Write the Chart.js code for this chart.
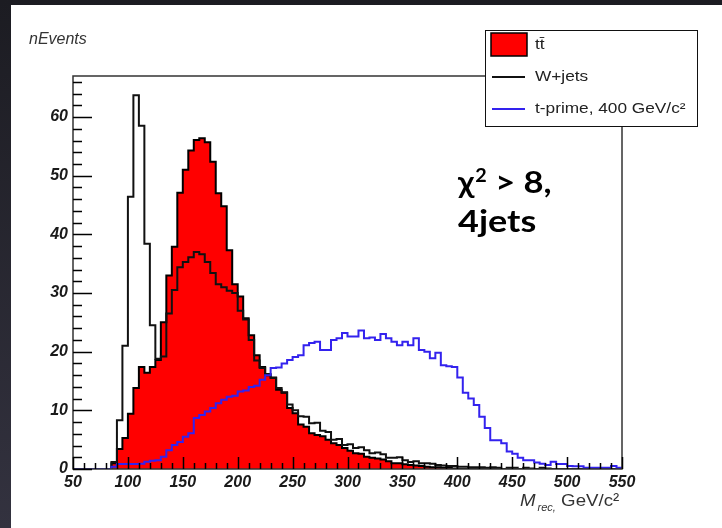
<!DOCTYPE html>
<html>
<head>
<meta charset="utf-8">
<script src="https://cdn.jsdelivr.net/npm/chart.js@4.4.1/dist/chart.umd.min.js"></script>
<style>
html, body { margin: 0; padding: 0; background: #26252f; }
#wrap { width: 722px; height: 528px; }
</style>
</head>
<body>
<div id="wrap"><canvas id="grafico" width="722" height="528"></canvas></div>
<script>
// bordas dos bins (GeV), 100 bins de 5 GeV
const massBins = Array.from({ length: 101 }, (_, i) => 50 + 5 * i);

const ttbar = [
  0, 0, 0, 0, 0, 0, 0, 1.0, 3.4, 5.3,
  9.4, 13.8, 17.4, 16.4, 17.4, 18.6, 25, 33, 37.9, 47.1,
  51, 54.3, 56.1, 56.4, 55.7, 52.4, 47, 44.8, 37.3, 31.5,
  29.4, 25.7, 22.8, 19.4, 17.4, 16, 15.6, 13.5, 13, 10.4,
  9.5, 7.6, 7.2, 6.1, 5.8, 5.6, 5.0, 4.4, 4.1, 3.6,
  3.1, 2.7, 2.6, 2.1, 1.9, 1.8, 1.6, 1.3, 1.0, 1.0,
  0.8, 0.7, 0.6, 0.5, 0.4, 0.3, 0.3, 0.2, 0.2, 0.1,
  0, 0, 0.1, 0, 0, 0.1, 0, 0, 0, 0,
  0, 0, 0, 0, 0, 0, 0, 0, 0, 0,
  0, 0, 0, 0, 0, 0, 0, 0, 0, 0
];

const wjets = [
  0, 0, 0, 0, 0, 0, 0, 1.2, 8.3, 21,
  46.4, 63.7, 58.5, 38.4, 24.5, 18.8, 19.2, 26.5, 30.5, 34.4,
  35.3, 36.1, 37, 36.6, 35.3, 33.4, 31.5, 31, 30.4, 30,
  27, 25.5, 22, 18.5, 17.2, 16.2, 15.5, 13.8, 13.1, 11,
  10, 9, 8.9, 7.8, 7.9, 6.5, 6.3, 5, 5.1, 4.1,
  4.2, 3.6, 3.7, 3.2, 2.7, 2.8, 2.5, 1.9, 1.9, 2.0,
  1.5, 1.2, 1.3, 1.0, 1.0, 0.9, 0.7, 0.6, 0.5, 0.5,
  0.4, 0.4, 0.3, 0.3, 0.3, 0.2, 0.3, 0.2, 0, 0.2,
  0.2, 0, 0.2, 0.1, 0, 0.2, 0.1, 0, 0, 0,
  0, 0, 0, 0, 0, 0, 0, 0, 0, 0
];

const tprime = [
  0, 0, 0, 0, 0, 0, 0, 0.4, 0.85, 0.85,
  0.85, 0.85, 0.9, 1.25, 1.4, 1.5, 2.1, 3.2, 4.1, 4.6,
  5.5, 6.1, 8.7, 9.2, 9.8, 10.4, 11.2, 11.8, 12.3, 12.5,
  13.2, 13.4, 14, 14.2, 15.2, 16, 17.2, 17.3, 18, 18.6,
  19.1, 19.4, 21.1, 21.5, 21.7, 20.3, 20.3, 22, 22.3, 23.2,
  22.6, 22.6, 23.6, 22.3, 22.4, 22, 23, 22.3, 21.7, 21.1,
  21.7, 21.1, 22.3, 20.3, 20, 18.9, 19.8, 17.7, 17.5, 17.4,
  15.6, 13, 12, 10.9, 8.9, 7, 4.9, 4.9, 4.4, 3.0,
  2.6, 1.9, 1.5, 1.5, 1.1, 0.9, 0.7, 1.25, 0.85, 0.85,
  0.5, 0.45, 0.45, 0.2, 0.2, 0.2, 0.2, 0.2, 0.5, 0.2
];

const seriesNames = ['tt\u0304', 'W+jets', 't-prime, 400 GeV/c\u00b2'];
const xTickValues = [50, 100, 150, 200, 250, 300, 350, 400, 450, 500, 550];
const xTickLabels = ['50', '100', '150', '200', '250', '300', '350', '400', '450', '500', '550'];
const yTickValues = [0, 10, 20, 30, 40, 50, 60];
const yTickLabels = ['0', '10', '20', '30', '40', '50', '60'];

const AZUL = '#3322ee';

function histPoints(valores) {
  const pts = valores.map((v, i) => ({ x: massBins[i], y: v }));
  pts.push({ x: massBins[valores.length], y: valores[valores.length - 1] });
  return pts;
}

function textoEsticado(c, txt, x, y, sx) {
  c.save();
  c.translate(x, y);
  c.scale(sx, 1);
  c.fillText(txt, 0, 0);
  const w = c.measureText(txt).width * sx;
  c.restore();
  return w;
}

const fundo = {
  id: 'fundo',
  beforeDraw(chart) {
    const c = chart.ctx;
    c.save();
    const g = c.createLinearGradient(0, 0, 0, 528);
    g.addColorStop(0, '#1c1c22');
    g.addColorStop(1, '#33323f');
    c.fillStyle = g;
    c.fillRect(0, 0, 722, 528);
    c.fillStyle = '#ffffff';
    c.fillRect(11, 5, 711, 523);
    c.restore();
  }
};

const moldura = {
  id: 'moldura',
  afterDatasetsDraw(chart) {
    const { ctx: c, chartArea: a, scales: { x, y } } = chart;
    c.save();
    c.strokeStyle = '#333';
    c.lineWidth = 1.5;
    c.strokeRect(a.left, a.top, a.right - a.left, a.bottom - a.top);
    c.strokeStyle = '#000';
    c.lineWidth = 1.5;
    c.beginPath();
    // ticks do eixo y (para dentro)
    for (let v = 0; v <= y.max; v += 2) {
      const py = Math.round(y.getPixelForValue(v)) + 0.5;
      const len = v % 10 === 0 ? 19 : 9;
      c.moveTo(a.left, py);
      c.lineTo(a.left + len, py);
    }
    // ticks do eixo x
    for (let v = x.min; v <= x.max; v += 10) {
      const px = Math.round(x.getPixelForValue(v)) + 0.5;
      const len = (v - 50) % 50 === 0 ? 12 : 6;
      c.moveTo(px, a.bottom);
      c.lineTo(px, a.bottom - len);
    }
    c.stroke();
    c.restore();
  },
  afterDraw(chart) {
    const c = chart.ctx;
    const ds = chart.data.datasets;
    c.save();
    // titulo do eixo y
    c.fillStyle = '#333';
    c.textBaseline = 'middle';
    c.font = 'italic 16px "Liberation Sans"';
    textoEsticado(c, 'nEvents', 29, 40, 1.0);

    // titulo do eixo x
    c.textBaseline = 'alphabetic';
    let px = 520;
    c.font = 'italic 17px "Liberation Sans"';
    px += textoEsticado(c, 'M', px, 506, 1.1);
    c.font = 'italic 10px "Liberation Sans"';
    px += textoEsticado(c, 'rec,', px + 2, 511, 1.1) + 2;
    c.font = '17px "Liberation Sans"';
    textoEsticado(c, ' GeV/c\u00b2', px, 506, 1.1);

    // texto chi2
    c.fillStyle = '#000';
    c.font = 'bold 30px Lato';
    let cx = 458;
    cx += textoEsticado(c, '\u03c7', cx, 193, 1.1);
    c.font = 'bold 18px Lato';
    cx += textoEsticado(c, '2', cx + 1, 182, 1.1) + 1;
    c.font = 'bold 30px Lato';
    textoEsticado(c, ' > 8,', cx, 193, 1.15);
    textoEsticado(c, '4jets', 458, 232, 1.2);

    // legenda
    c.fillStyle = '#fff';
    c.fillRect(485.5, 30.5, 212, 96);
    c.strokeStyle = '#111';
    c.lineWidth = 1;
    c.strokeRect(485.5, 30.5, 212, 96);
    c.fillStyle = '#ff0000';
    c.fillRect(491, 33, 36, 23);
    c.lineWidth = 1.5;
    c.strokeStyle = '#000';
    c.strokeRect(491, 33, 36, 23);
    c.lineWidth = 2;
    c.strokeStyle = ds[1].borderColor;
    c.beginPath(); c.moveTo(492, 77); c.lineTo(525, 77); c.stroke();
    c.strokeStyle = ds[2].borderColor;
    c.beginPath(); c.moveTo(492, 109); c.lineTo(525, 109); c.stroke();
    c.fillStyle = '#222';
    c.textBaseline = 'middle';
    c.font = '15px "Liberation Sans"';
    textoEsticado(c, ds[0].label, 535, 45, 1.15);
    textoEsticado(c, ds[1].label, 535, 77, 1.15);
    textoEsticado(c, ds[2].label, 535, 109, 1.15);
    c.restore();
  }
};

const fonteTicks = { family: 'Liberation Sans', size: 16, weight: 'bold', style: 'italic' };

const ctx = document.getElementById('grafico').getContext('2d');
const chart = new Chart(ctx, {
  type: 'line',
  data: {
    datasets: [{
      label: seriesNames[0],
      data: histPoints(ttbar),
      stepped: true,
      borderColor: '#000',
      backgroundColor: '#ff0000',
      borderWidth: 2,
      fill: 'origin',
      pointRadius: 0,
      order: 3
    }, {
      label: seriesNames[1],
      data: histPoints(wjets),
      stepped: true,
      borderColor: '#111',
      borderWidth: 2,
      fill: false,
      pointRadius: 0,
      order: 2
    }, {
      label: seriesNames[2],
      data: histPoints(tprime),
      stepped: true,
      borderColor: AZUL,
      borderWidth: 2,
      fill: false,
      pointRadius: 0,
      order: 1
    }]
  },
  options: {
    responsive: false,
    animation: false,
    devicePixelRatio: 1,
    events: [],
    layout: { padding: { left: 0, top: 76, right: 100, bottom: 0 } },
    plugins: {
      legend: { display: false },
      tooltip: { enabled: false }
    },
    scales: {
      x: {
        type: 'linear',
        min: 50,
        max: 550,
        afterFit: s => { s.height = 59; },
        grid: { display: false, drawTicks: false },
        border: { display: false },
        ticks: {
          stepSize: 50,
          autoSkip: false,
          maxRotation: 0,
          padding: 4,
          color: '#1a1a1a',
          font: fonteTicks,
          callback: v => {
            const i = xTickValues.indexOf(v);
            return i >= 0 ? xTickLabels[i] : '';
          }
        }
      },
      y: {
        min: 0,
        max: 67,
        afterFit: s => { s.width = 73; },
        grid: { display: false, drawTicks: false },
        border: { display: false },
        ticks: {
          stepSize: 10,
          includeBounds: false,
          padding: 5,
          color: '#1a1a1a',
          font: fonteTicks,
          callback: v => {
            const i = yTickValues.indexOf(v);
            return i >= 0 ? yTickLabels[i] : '';
          }
        }
      }
    }
  },
  plugins: [fundo, moldura]
});
</script>
</body>
</html>
